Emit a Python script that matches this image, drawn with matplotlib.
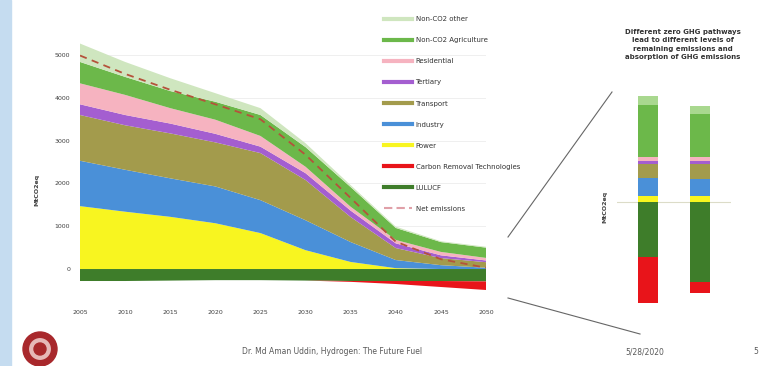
import numpy as np
import matplotlib.pyplot as plt
from matplotlib.lines import Line2D
from matplotlib.patches import Rectangle, Ellipse

# main chart data, MtCO2eq per year
years = [2005, 2010, 2015, 2020, 2025, 2030, 2035, 2040, 2045, 2050]
power = [1470, 1340, 1220, 1070, 840, 440, 165, 20, 0, 0]
industry = [1060, 980, 900, 860, 770, 700, 465, 190, 90, 30]
transport = [1070, 1040, 1050, 1030, 1100, 940, 585, 280, 165, 130]
tertiary = [250, 240, 230, 200, 150, 160, 150, 110, 65, 40]
residential = [490, 470, 360, 330, 250, 150, 90, 80, 80, 60]
agriculture = [500, 420, 400, 420, 490, 460, 460, 280, 230, 240]
other = [430, 350, 300, 200, 160, 90, 45, 30, 20, 20]
lulucf = [-280, -280, -270, -260, -260, -270, -280, -280, -280, -290]
crt = [0, 0, 0, 0, 0, 0, -20, -70, -140, -200]

# 2050 pathways (bars)
paths = ["1.5TECH", "1.5LIFE"]
bar_power = [30, 30]
bar_industry = [95, 90]
bar_transport = [70, 75]
bar_tertiary = [15, 15]
bar_residential = [20, 20]
bar_agriculture = [265, 220]
bar_other = [45, 40]
bar_lulucf = [-280, -410]
bar_crt = [-235, -55]

labels = ["Non-CO2 other", "Non-CO2 Agriculture", "Residential", "Tertiary",
          "Transport", "Industry", "Power", "Carbon Removal Technologies",
          "LULUCF", "Net emissions"]
c_other = "#cfe6bf"
c_agri = "#6cb84a"
c_res = "#f6b3c0"
c_ter = "#a45ed0"
c_tra = "#a39b4c"
c_ind = "#4a90d8"
c_pow = "#f8f520"
c_crt = "#e8141a"
c_lul = "#3e7d2a"
c_net = "#b5523b"

W, H = 764, 366
fig = plt.figure(figsize=(W / 100, H / 100), dpi=100)
fig.patches.append(Rectangle((0, 0), 11 / W, 1, transform=fig.transFigure,
                             color="#c5dcf0", zorder=0))

def fx(px):
    return px / W

def fy(py):
    return 1 - py / H

# main stacked area chart
ax = fig.add_axes([fx(80), fy(294.7), 406 / W, 261 / H])
ax.stackplot(years, power, industry, transport, tertiary, residential,
             agriculture, other,
             colors=[c_pow, c_ind, c_tra, c_ter, c_res, c_agri, c_other],
             lw=0, zorder=2)
ax.stackplot(years, lulucf, crt, colors=[c_lul, c_crt], lw=0, zorder=2)
net = (np.array(power) + np.array(industry) + np.array(transport)
       + np.array(tertiary) + np.array(residential) + np.array(agriculture)
       + np.array(other) + np.array(lulucf) + np.array(crt))
ax.plot(years, net, color=c_net, ls=(0, (4, 3)), lw=1.3, zorder=3)
ax.set_xlim(2005, 2050)
ax.set_ylim(-600, 5500)
ax.set_xticks(years)
ax.set_yticks([0, 1000, 2000, 3000, 4000, 5000])
ax.tick_params(length=0, labelsize=4.5, labelcolor="#404040")
ax.tick_params(axis="x", pad=11)
ax.tick_params(axis="y", pad=7)
ax.grid(axis="y", color="#ececec", lw=0.6, zorder=0)
ax.set_axisbelow(True)
for s in ax.spines.values():
    s.set_visible(False)
fig.text(fx(37), fy(190), "MtCO2eq", rotation=90, ha="center", va="center",
         fontsize=4.5, color="#404040", fontweight="bold")

# legend
handles = [Line2D([], [], color=c, lw=3) for c in
           [c_other, c_agri, c_res, c_ter, c_tra, c_ind, c_pow, c_crt, c_lul]]
handles.append(Line2D([], [], color="#e0a0a8", lw=1.5, ls=(0, (4, 2))))
fig.legend(handles, labels, loc="upper left", bbox_to_anchor=(fx(378), fy(10)),
           frameon=False, fontsize=5, labelspacing=2.17, handlelength=4,
           handletextpad=0.5, labelcolor="#333333")

# bar panel for 2050
bx = fig.add_axes([fx(616.8), fy(319.6), 114.4 / W, 235 / H])
x = np.arange(len(paths))
bw = 0.385
bottom = np.zeros(len(paths))
for vals, c in [(bar_power, c_pow), (bar_industry, c_ind),
                (bar_transport, c_tra), (bar_tertiary, c_ter),
                (bar_residential, c_res), (bar_agriculture, c_agri),
                (bar_other, "#a9d88f")]:
    bx.bar(x, vals, bw, bottom=bottom, color=c, lw=0, zorder=2)
    bottom += np.array(vals)
bottom = np.zeros(len(paths))
for vals, c in [(bar_lulucf, c_lul), (bar_crt, c_crt)]:
    bx.bar(x, vals, bw, bottom=bottom, color=c, lw=0, zorder=2)
    bottom += np.array(vals)
bx.axhline(0, color="#dcdcc8", lw=0.8, zorder=1)
bx.set_xlim(-0.6, 1.6)
bx.set_ylim(-600, 600)
bx.axis("off")
fig.text(fx(605), fy(207), "MtCO2eq", rotation=90, ha="center", va="center",
         fontsize=4.5, color="#404040", fontweight="bold")
fig.text(fx(683), fy(29), "Different zero GHG pathways\nlead to different levels of\n"
         "remaining emissions and\nabsorption of GHG emissions",
         ha="center", va="top", fontsize=5, fontweight="bold", color="#333333",
         linespacing=1.45)

# zoom lines from 2050 to the bars
fig.add_artist(Line2D([fx(508), fx(612)], [fy(237), fy(92)],
                      transform=fig.transFigure, color="#666666", lw=0.8))
fig.add_artist(Line2D([fx(508), fx(640)], [fy(298), fy(334)],
                      transform=fig.transFigure, color="#666666", lw=0.8))

# footer
fig.patches.append(Ellipse((fx(40), fy(349)), 34 / W, 34 / H,
                           transform=fig.transFigure, color="#a8282c", zorder=3))
fig.patches.append(Ellipse((fx(40), fy(349)), 24 / W, 24 / H,
                           transform=fig.transFigure, fc="#e6b8b8", ec="#a8282c",
                           lw=1.5, zorder=4))
fig.patches.append(Ellipse((fx(40), fy(349)), 12 / W, 12 / H,
                           transform=fig.transFigure, color="#a8282c", zorder=5))
fig.text(fx(332), fy(352), "Dr. Md Aman Uddin, Hydrogen: The Future Fuel",
         ha="center", va="center", fontsize=5.5, color="#595959")
fig.text(fx(645), fy(352), "5/28/2020", ha="center", va="center",
         fontsize=5.5, color="#595959")
fig.text(fx(756), fy(352), "5", ha="center", va="center",
         fontsize=5.5, color="#595959")

fig.savefig("out.png", dpi=100)
